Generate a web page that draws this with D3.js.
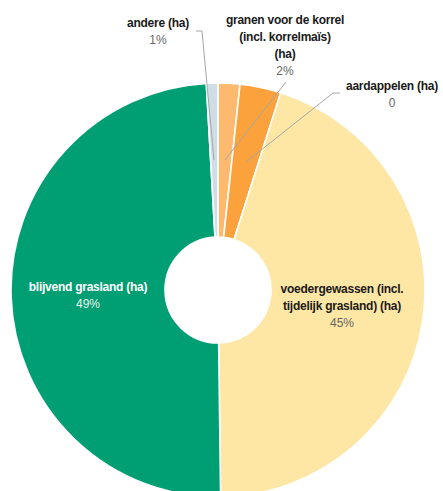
<!DOCTYPE html>
<html><head><meta charset="utf-8">
<script src="https://cdn.jsdelivr.net/npm/d3@7/dist/d3.min.js"></script>
<style>
body{margin:0;background:#fff;}
svg{display:block;font-family:"Liberation Sans",Arial,sans-serif;}
</style></head>
<body>
<svg id="chart" width="443" height="491"></svg>
<script>
// Data
const categories = [
  "granen voor de korrel (incl. korrelmaïs) (ha)",
  "aardappelen (ha)",
  "voedergewassen (incl. tijdelijk grasland) (ha)",
  "blijvend grasland (ha)",
  "andere (ha)"
];
const shares = [1.7, 3.2, 44.9, 49.3, 0.9];
const valueLabels = ["2%", "0", "45%", "49%", "1%"];
const nameLines = [
  ["granen voor de korrel", "(incl. korrelmaïs)", "(ha)"],
  ["aardappelen (ha)"],
  ["voedergewassen (incl.", "tijdelijk grasland) (ha)"],
  ["blijvend grasland (ha)"],
  ["andere (ha)"]
];
const colors = ["#FDBA6E", "#FBA23C", "#FEE6A5", "#009E73", "#CFDEE6"];

// Layout
const cx = 218, cy = 290, rOuter = 207, rInner = 53;
const labelLayout = [
  {x: 285, y: 24, nameFill: "#1a1a1a", valFill: "#666", leader: [[286, 82], [225, 160]]},
  {x: 392, y: 90, nameFill: "#1a1a1a", valFill: "#666", leader: [[340, 93], [333, 93], [246, 162]]},
  {x: 342, y: 293, nameFill: "#1a1a1a", valFill: "#666"},
  {x: 88, y: 291, nameFill: "#ffffff", valFill: "#e8f4ef"},
  {x: 158, y: 27, nameFill: "#1a1a1a", valFill: "#666", leader: [[196, 31], [202, 31], [214, 160]]}
];
const lineH = 17;

const svg = d3.select("#chart");
const g = svg.append("g").attr("transform", `translate(${cx},${cy})`);

const pie = d3.pie().sort(null).value(d => d).startAngle(0).endAngle(2 * Math.PI);
const arcs = pie(shares);
const arc = d3.arc().innerRadius(rInner).outerRadius(rOuter);

g.selectAll("path.slice").data(arcs).enter().append("path")
  .attr("class", "slice")
  .attr("d", arc)
  .attr("fill", (d, i) => colors[i])
  .attr("stroke", "#fff")
  .attr("stroke-width", 1.6);

// leader lines
const line = d3.line();
labelLayout.forEach((L, i) => {
  if (L.leader) {
    svg.append("path").attr("d", line(L.leader))
      .attr("fill", "none").attr("stroke", "#A6A6A6").attr("stroke-width", 1);
  }
});

// labels
labelLayout.forEach((L, i) => {
  const t = svg.append("text").attr("text-anchor", "middle").attr("font-size", 12);
  nameLines[i].forEach((s, k) => {
    t.append("tspan").attr("x", L.x).attr("y", L.y + k * lineH)
      .attr("font-weight", "bold").attr("fill", L.nameFill)
      .attr("letter-spacing", "-0.25").text(s);
  });
  t.append("tspan").attr("x", L.x).attr("y", L.y + nameLines[i].length * lineH)
    .attr("fill", L.valFill).text(valueLabels[i]);
});
</script>
</body></html>
